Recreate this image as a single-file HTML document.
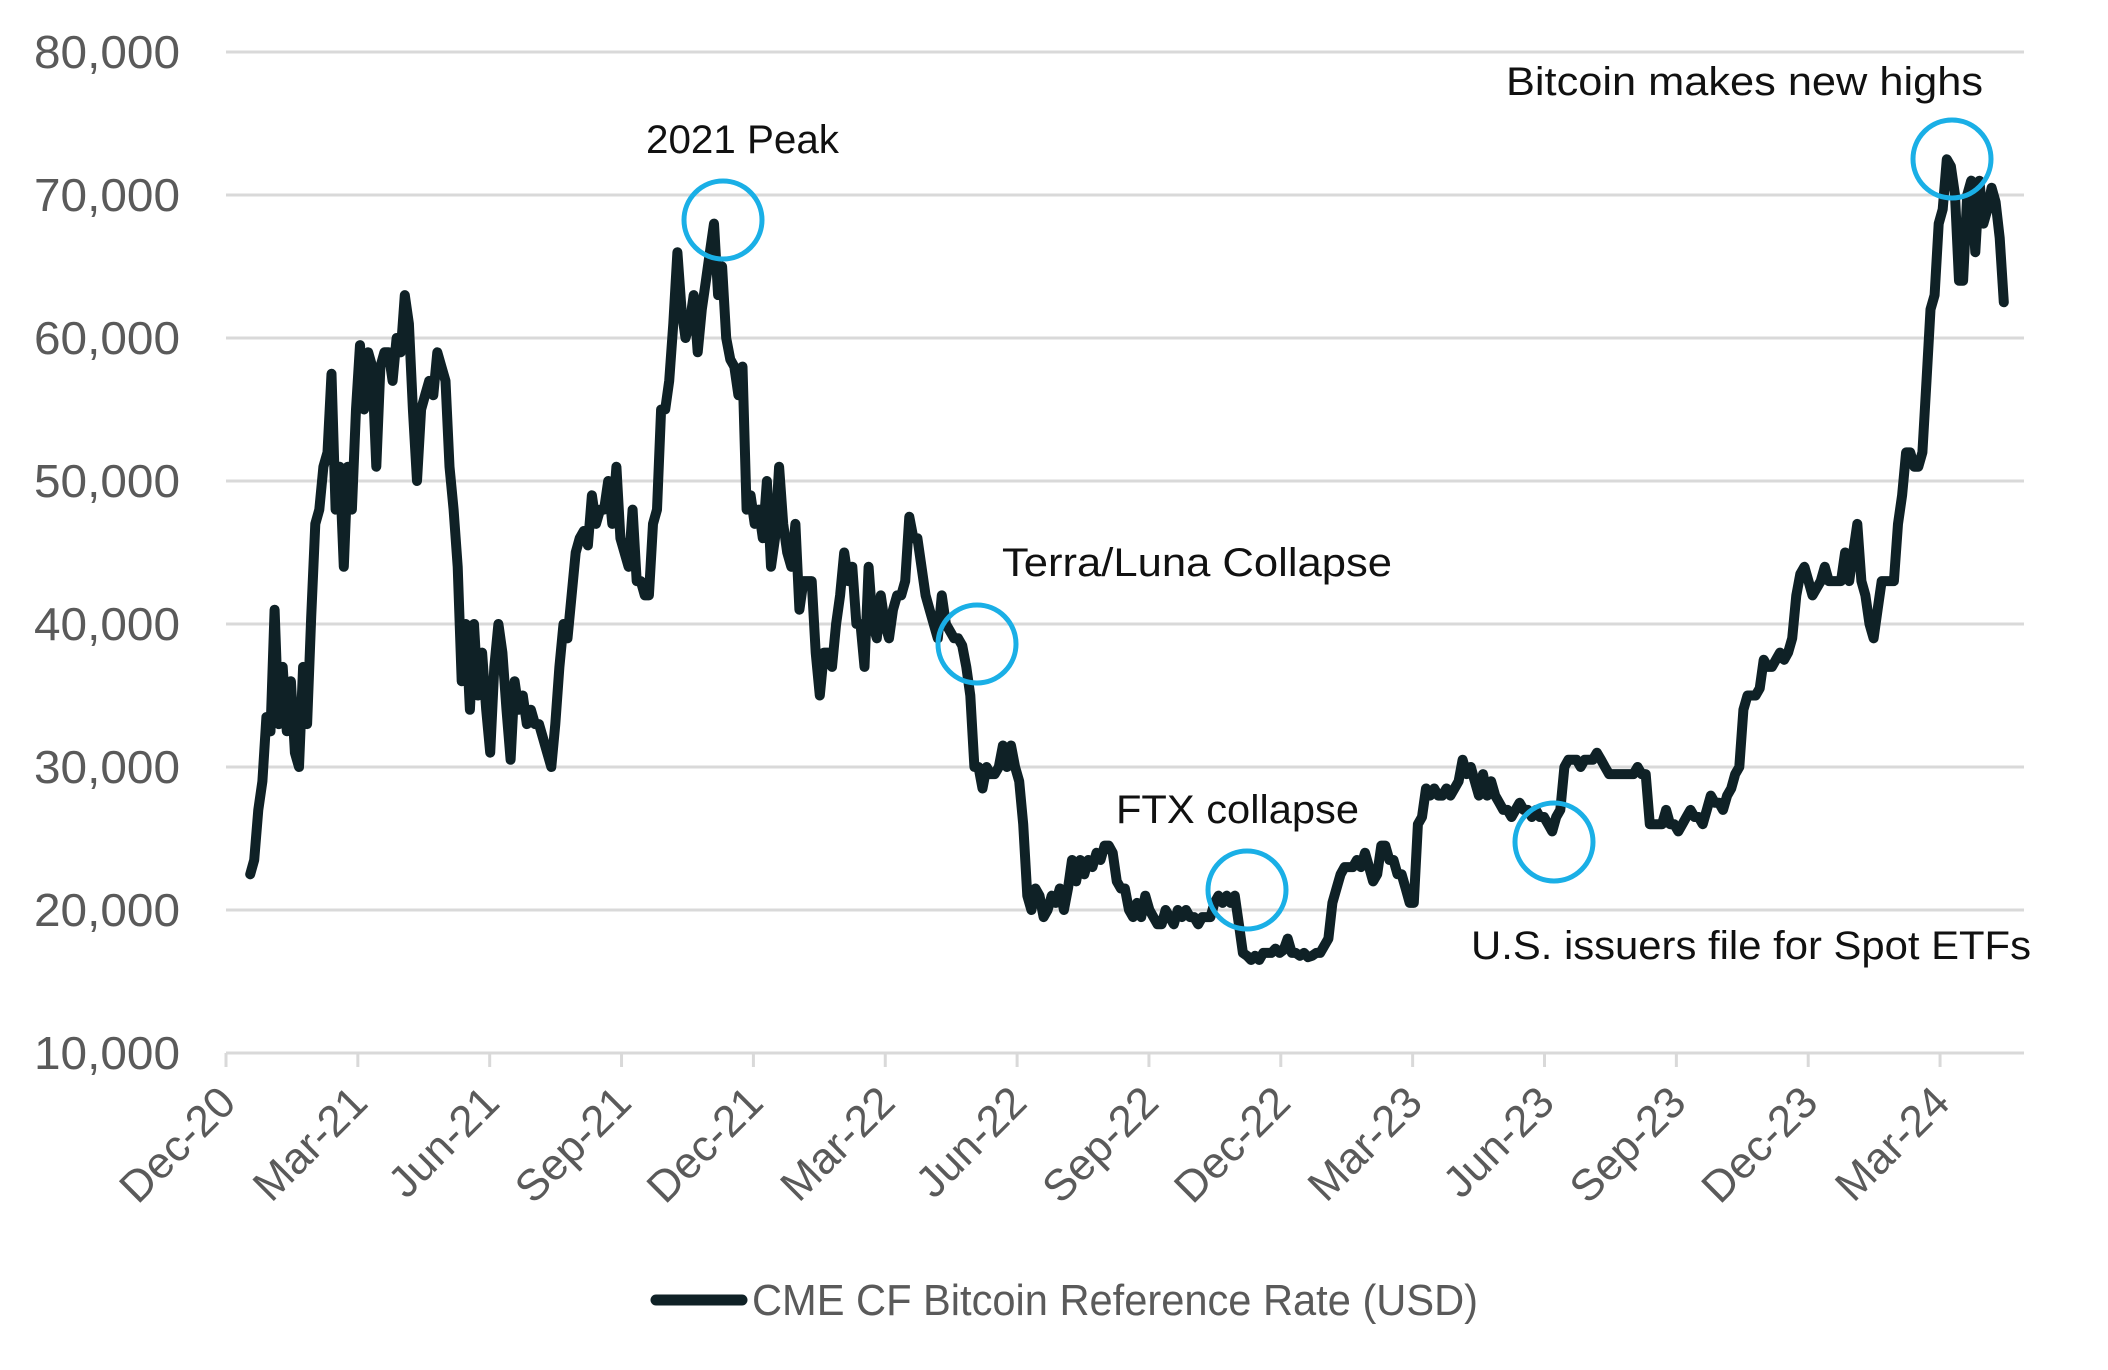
<!DOCTYPE html>
<html><head><meta charset="utf-8"><style>
html,body{margin:0;padding:0;background:#fff;}
svg{display:block;font-family:"Liberation Sans",sans-serif;}
</style></head><body>
<svg id="chart" width="2108" height="1370" viewBox="0 0 2108 1370" xmlns="http://www.w3.org/2000/svg">
<g id="grid"></g>
<g id="yaxis"></g>
<g id="xaxis"></g>
<g id="series"></g>
<g id="annots"></g>
<g>
<line x1="656" y1="1300" x2="742" y2="1300" stroke="#0f2126" stroke-width="11" stroke-linecap="round"/>
<text x="752" y="1315" font-size="44" fill="#5a5a5a" textLength="726" lengthAdjust="spacingAndGlyphs">CME CF Bitcoin Reference Rate (USD)</text>
</g>
</svg>
<script>
const yTicks = [10000,20000,30000,40000,50000,60000,70000,80000];
const yTickLabels = ["10,000","20,000","30,000","40,000","50,000","60,000","70,000","80,000"];
const xTickLabels = ["Dec-20","Mar-21","Jun-21","Sep-21","Dec-21","Mar-22","Jun-22","Sep-22","Dec-22","Mar-23","Jun-23","Sep-23","Dec-23","Mar-24"];
const xTickMonths = [0,3,6,9,12,15,18,21,24,27,30,33,36,39];
const seriesStartMonth = 0.55;
const seriesEndMonth = 40.45;
const prices = [22.5,23.5,27,29,33.5,32.5,41,33,37,32.5,36,31,30,37,33,40.5,47,48,51,52,57.5,48,51,44,51,48,55,59.5,55,59,58,51,58,59,59,57,60,59,63,61,55,50,55,56,57,56,59,58,57,51,48,44,36,40,34,40,35,38,34,31,37,40,38,34,30.5,36,34,35,33,34,33,33,32,31,30,33,37,40,39,42,45,46,46.5,45.5,49,47,48,48,50,47,51,46,45,44,48,43,43,42,42,47,48,55,55,57,61,66,62,60,61,63,59,62,64,66,68,63,65,60,58.5,58,56,58,48,49,47,48,46,50,44,46,51,47,45,44,47,41,43,43,43,38,35,38,38,37,40,42,45,43,44,40,40,37,44,40,39,42,40,39,41,42,42,43,47.5,46,46,44,42,41,40,39,42,40,39.5,39,39,38.5,37,35,30,30,28.5,30,29.5,29.5,30,31.5,30,31.5,30,29,26,21,20,21.5,21,19.5,20,21,20.5,21.5,20,21.5,23.5,22,23.5,22.5,23.5,23,24,23.5,24.5,24.5,24,22,21.5,21.5,20,19.5,20.5,19.5,21,20,19.5,19,19,20,19.5,19,20,19.5,20,19.5,19.5,19,19.5,19.5,19.5,20.5,21,20.5,21,20.5,21,19,17,16.8,16.5,16.8,16.5,17,17,17,17.3,17,17.2,18,17,17,16.8,17,16.7,16.8,17,17,17.5,18,20.5,21.5,22.5,23,23,23,23.5,23,24,23,22,22.5,24.5,24.5,23.5,23.5,22.5,22.5,21.5,20.5,20.5,26,26.5,28.5,28,28.5,28,28,28.5,28,28.5,29,30.5,29.5,30,29,28,29.5,28,29,28,27.5,27,27,26.5,27,27.5,27,27,26.5,27,26.5,26.5,26,25.5,26.5,27,30,30.5,30.5,30.5,30,30.5,30.5,30.5,31,30.5,30,29.5,29.5,29.5,29.5,29.5,29.5,29.5,30,29.5,29.5,26,26,26,26,27,26,26,25.5,26,26.5,27,26.5,26.5,26,27,28,27.5,27.5,27,28,28.5,29.5,30,34,35,35,35,35.5,37.5,37,37,37.5,38,37.5,38,39,42,43.5,44,43,42,42.5,43,44,43,43,43,43,45,43,45,47,43,42,40,39,41,43,43,43,43,47,49,52,52,51,51,52,57,62,63,68,69,72.5,72,70,64,64,70,71,66,71,68,69,70.5,69.5,67,62.5].map(v=>v*1000);
const annotationLabels = ["2021 Peak","Terra/Luna Collapse","FTX collapse","U.S. issuers file for Spot ETFs","Bitcoin makes new highs"];

const NS="http://www.w3.org/2000/svg";
const L=226,R=2024,T=52,B=1053;
const monthPx=43.95;
function xScale(m){return L+m*monthPx;}
function yScale(v){return B-(v-10000)/70000*(B-T);}
function mk(tag,attrs,parent){const e=document.createElementNS(NS,tag);for(const k in attrs)e.setAttribute(k,attrs[k]);parent.appendChild(e);return e;}

const grid=document.getElementById('grid'),yax=document.getElementById('yaxis'),xax=document.getElementById('xaxis');
yTicks.forEach((v,i)=>{
  const g=mk('line',{x1:L,x2:R,y1:yScale(v),y2:yScale(v),stroke:'#d9d9d9','stroke-width':3},grid);
  
  
  const t=mk('text',{x:180,y:yScale(v)+16,'text-anchor':'end','font-size':46,fill:'#5a5a5a',textLength:146,lengthAdjust:'spacingAndGlyphs'},yax);
  t.textContent=yTickLabels[i];
  
  
});
xTickMonths.forEach((m,i)=>{
  const x=xScale(m);
  const tk=mk('line',{x1:x,x2:x,y1:B,y2:B+14,stroke:'#d9d9d9','stroke-width':3},xax);
  
  
  const t=mk('text',{x:0,y:0,'text-anchor':'end','font-size':44,fill:'#5a5a5a',transform:`translate(${x+12},${B+52}) rotate(-45)`},xax);
  t.textContent=xTickLabels[i];
  
  
});
const step=(seriesEndMonth-seriesStartMonth)/(prices.length-1);
const d=prices.map((p,i)=>(i?'L':'M')+xScale(seriesStartMonth+i*step).toFixed(1)+','+yScale(p).toFixed(1)).join(' ');
const path=mk('path',{d:d,fill:'none',stroke:'#0f2126','stroke-width':10,'stroke-linejoin':'round','stroke-linecap':'round'},document.getElementById('series'));



const an=document.getElementById('annots');
const circles=[[723,220],[977,644],[1247,890],[1554,842],[1952,159]];
const texts=[[646,153,193],[1002,576,390],[1116,823,243],[1471,959,560],[1506,95,477]];
circles.forEach((c,i)=>{
  const ci=mk('ellipse',{cx:c[0],cy:c[1],rx:39,ry:39,fill:'none',stroke:'#1aafe6','stroke-width':5},an);
  
  
  const t=mk('text',{x:texts[i][0],y:texts[i][1],'font-size':40,fill:'#111',textLength:texts[i][2],lengthAdjust:'spacingAndGlyphs'},an);
  t.textContent=annotationLabels[i];
  
  
});
</script>
</body></html>
